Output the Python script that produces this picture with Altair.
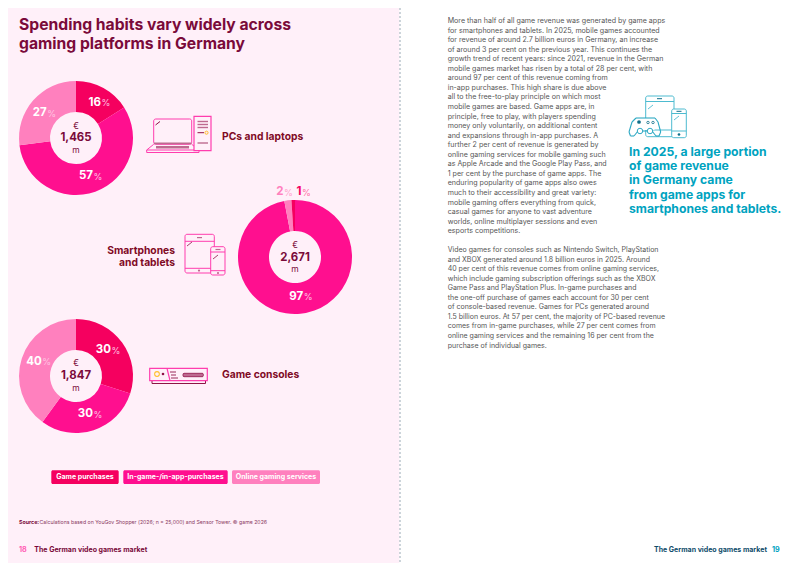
import altair as alt
import pandas as pd

# ---- data values ----
categories = ["Game purchases", "In-game-/in-app-purchases", "Online gaming services"]
cat_colors = ["#F5005F", "#FF0F8F", "#FF80BE"]
pc_slices = ["Game purchases", "In-game-/in-app-purchases", "Online gaming services"]
pc_values = [16, 57, 27]
mobile_slices = ["In-game-/in-app-purchases", "Online gaming services", "Game purchases"]
mobile_values = [97, 2, 1]
console_slices = ["Game purchases", "In-game-/in-app-purchases", "Online gaming services"]
console_values = [30, 30, 40]
totals = ["1,465", "2,671", "1,847"]

para1 = [
    "More than half of all game revenue was generated by game apps",
    "for smartphones and tablets. In 2025, mobile games accounted",
    "for revenue of around 2.7 billion euros in Germany, an increase",
    "of around 3 per cent on the previous year. This continues the",
    "growth trend of recent years: since 2021, revenue in the German",
    "mobile games market has risen by a total of 28 per cent, with",
    "around 97 per cent of this revenue coming from",
    "in-app purchases. This high share is due above",
    "all to the free-to-play principle on which most",
    "mobile games are based. Game apps are, in",
    "principle, free to play, with players spending",
    "money only voluntarily, on additional content",
    "and expansions through in-app purchases. A",
    "further 2 per cent of revenue is generated by",
    "online gaming services for mobile gaming such",
    "as Apple Arcade and the Google Play Pass, and",
    "1 per cent by the purchase of game apps. The",
    "enduring popularity of game apps also owes",
    "much to their accessibility and great variety:",
    "mobile gaming offers everything from quick,",
    "casual games for anyone to vast adventure",
    "worlds, online multiplayer sessions and even",
    "esports competitions.",
]
para2 = [
    "Video games for consoles such as Nintendo Switch, PlayStation",
    "and XBOX generated around 1.8 billion euros in 2025. Around",
    "40 per cent of this revenue comes from online gaming services,",
    "which include gaming subscription offerings such as the XBOX",
    "Game Pass and PlayStation Plus. In-game purchases and",
    "the one-off purchase of games each account for 30 per cent",
    "of console-based revenue. Games for PCs generated around",
    "1.5 billion euros. At 57 per cent, the majority of PC-based revenue",
    "comes from in-game purchases, while 27 per cent comes from",
    "online gaming services and the remaining 16 per cent from the",
    "purchase of individual games.",
]
callout = ["In 2025, a large portion", "of game revenue", "in Germany came",
           "from game apps for", "smartphones and tablets."]

FONT = "Inter"
OFF = 8  # page margin
DARK = "#7A0A3A"
LABEL = "#7F0A25"
PINK = "#FF3DAE"
MUTED = "#BE6A90"
TEAL = "#00A3BF"
TEAL_LINE = "#4DBBD0"
BG = "#FFF0F9"

X = lambda f: alt.X(f, type="quantitative", scale=None, axis=None)
Y = lambda f: alt.Y(f, type="quantitative", scale=None, axis=None)
layers = []


def text(rows, size, color, weight="normal", align="left", font=FONT):
    df = pd.DataFrame([{"t": t, "x": x - OFF, "y": y - OFF} for t, x, y in rows])
    layers.append(
        alt.Chart(df).mark_text(fontSize=size, color=color, fontWeight=weight, align=align,
                                baseline="middle", font=font)
        .encode(x=X("x"), y=Y("y"), text="t:N")
    )


def rects(rows, fill="transparent", stroke=None, sw=1.0, radius=0):
    df = pd.DataFrame([{"a": max(a - OFF, 0), "b": max(b - OFF, 0), "c": max(c - OFF, 0), "d": max(d - OFF, 0)}
                       for a, c, b, d in rows])
    kw = dict(fill=fill, cornerRadius=radius)
    if stroke:
        kw.update(stroke=stroke, strokeWidth=sw)
    layers.append(alt.Chart(df).mark_rect(**kw).encode(x=X("a"), x2="b:Q", y=Y("c"), y2="d:Q"))


def segs(rows, color, sw=1.0, dash=None):
    df = pd.DataFrame([{"a": a - OFF, "c": c - OFF, "b": b - OFF, "d": d - OFF} for a, c, b, d in rows])
    kw = dict(color=color, strokeWidth=sw)
    if dash:
        kw["strokeDash"] = dash
    layers.append(alt.Chart(df).mark_rule(**kw).encode(x=X("a"), x2="b:Q", y=Y("c"), y2="d:Q"))


def poly(points, color, sw=1.0):
    segs([(*points[i], *points[i + 1]) for i in range(len(points) - 1)], color, sw)


def dots(rows, size, fill, stroke=None, sw=1.0):
    df = pd.DataFrame([{"x": x - OFF, "y": y - OFF} for x, y in rows])
    kw = dict(size=size, filled=True, fill=fill, opacity=1)
    if stroke:
        kw.update(stroke=stroke, strokeWidth=sw)
    layers.append(alt.Chart(df).mark_point(**kw).encode(x=X("x"), y=Y("y")))


def donut(slices, values, cx, cy):
    df = pd.DataFrame({"category": slices, "share": values, "rank": range(len(values))})
    layers.append(
        alt.Chart(df).mark_arc(radius=57, innerRadius=26, strokeWidth=0)
        .encode(
            theta=alt.Theta("share:Q", stack=True, scale=alt.Scale(domain=[0, 100])),
            color=alt.Color("category:N", scale=alt.Scale(domain=categories, range=cat_colors), legend=None),
            order=alt.Order("rank:Q"),
            x=alt.value(cx - OFF),
            y=alt.value(cy - OFF),
        )
    )


# page backgrounds and divider
rects([(0, 0, 399.3, 571)], fill=BG)
segs([(400, 0, 400, 571)], "#9AA9B5", 1.0, [2, 2])

# title
text([("Spending habits vary widely across", 19, 24.5), ("gaming platforms in Germany", 19, 44)], 15.7, DARK, "bold")

# donuts
donut(pc_slices, pc_values, 76, 138)
donut(mobile_slices, mobile_values, 295, 257)
donut(console_slices, console_values, 76, 376)

# centre labels
text([("€", 76, 125.7), ("m", 76, 150), ("€", 295, 245), ("m", 295, 269), ("€", 76, 363.3), ("m", 76, 388)],
     8.5, DARK, align="center")
text([(totals[0], 76, 138.3), (totals[1], 295, 257.7), (totals[2], 76, 376)], 11.4, DARK, "bold", "center")

# percent labels (white on the rings)
text([(str(pc_values[0]), 101, 102.7), (str(pc_values[2]), 46.7, 113), (str(pc_values[1]), 93, 176),
      (str(mobile_values[0]), 303.3, 296.7),
      (str(console_values[0]), 111, 350), (str(console_values[1]), 93, 414), (str(console_values[2]), 41.7, 361.7)],
     11.5, "#FFFFFF", "bold", "right")
text([("%", 101.5, 103.2), ("%", 47.2, 113.5), ("%", 93.5, 176.5), ("%", 303.8, 297.2),
      ("%", 111.5, 350.5), ("%", 93.5, 414.5), ("%", 42.2, 362.2)], 9, "#FFC4E2", align="left")
text([(str(mobile_values[1]), 283.5, 192.3)], 11.5, "#FF80BE", "bold", "right")
text([("%", 284, 192.8)], 9, "#FF9FCE")
text([(str(mobile_values[2]), 301.5, 192.3)], 11.5, "#F5005F", "bold", "right")
text([("%", 302, 192.8)], 9, "#FF6FA6")

# platform labels
text([("PCs and laptops", 222, 137.3), ("Game consoles", 222, 375.3)], 10.3, LABEL, "bold")
text([("Smartphones", 175, 251.3), ("and tablets", 175, 263.3)], 10.3, LABEL, "bold", "right")

# PC icon
rects([(153.7, 119, 191.7, 144.3)], stroke=PINK, radius=2)
poly([(153.7, 144.3), (146.7, 150), (146.7, 152.5), (199, 152.5), (199, 150), (191.7, 144.3)], PINK)
segs([(146.7, 150, 199, 150)], PINK)
rects([(154, 142.6, 191.5, 144.2), (156, 146, 189, 148.6)], fill=MUTED)
rects([(194, 116.3, 211, 150.7)], fill=BG, stroke=PINK, sw=1.2)
segs([(197.5, 121.5, 208, 121.5), (197.5, 124.5, 208, 124.5), (197.5, 127.5, 208, 127.5), (197.5, 143, 208, 143)], MUTED, 1.4)
segs([(197.5, 132.7, 204, 132.7), (155.5, 125, 160, 121.5)], "#8F1247", 1)
dots([(206.5, 132.7)], 10, "#FFE5F2", "#FFC12E", 1)

# tablet & phone icon
rects([(185, 234.3, 214.3, 273)], stroke=PINK, radius=2)
segs([(185, 241.3, 214.3, 241.3), (185, 268.3, 214.3, 268.3)], PINK)
segs([(197, 237.6, 202, 237.6)], MUTED, 1.2)
segs([(187, 246, 192, 242)], "#8F1247", 0.8)
rects([(210.7, 246.7, 225, 275)], fill=BG, stroke=PINK, radius=2)
segs([(210.7, 252, 225, 252), (210.7, 270.7, 225, 270.7)], PINK)
segs([(215.5, 249.5, 220.5, 249.5)], MUTED, 1.2)
segs([(213, 259, 218, 255)], "#8F1247", 0.8)
dots([(199, 270.6), (218, 273)], 5, MUTED)

# console icon
rects([(152, 380, 205.5, 383.5)], fill=BG, stroke="#8F1247")
rects([(149.7, 368.3, 207.3, 380.7)], fill=BG, stroke=PINK, sw=1.2)
segs([(167, 368.3, 170, 380.7)], PINK, 1.2)
segs([(170, 372, 176, 372), (171, 375, 176, 375), (171, 378, 178, 378)], "#8F1247", 0.9)
rects([(183, 373.3, 203.3, 376.7)], fill=MUTED, stroke="#8F1247", sw=0.8, radius=1)
dots([(157, 374)], 22, BG, "#FFC12E", 1.1)
dots([(163, 374)], 7, "#8F1247")

# legend
rects([(51.3, 470.3, 118.7, 484)], fill=cat_colors[0], radius=1.5)
rects([(123.3, 470.3, 227.7, 484)], fill=cat_colors[1], radius=1.5)
rects([(232, 470.3, 320, 484)], fill=cat_colors[2], radius=1.5)
text([(categories[0], 85, 477.3), (categories[1], 175.5, 477.3), (categories[2], 276, 477.3)],
     7.0, "#FFFFFF", "bold", "center")

# source and footers
text([("Source:", 19, 522)], 5.3, DARK, "bold")
text([("Calculations based on YouGov Shopper (2026; n = 25,000) and Sensor Tower. © game 2026", 39.5, 522)], 5.2, "#8A3A62")
text([("18", 19, 550)], 7.2, "#FF5FB4", "bold")
text([("The German video games market", 34.3, 550)], 7.0, DARK, "bold")
text([("The German video games market", 654, 550)], 7.0, "#0F4C6B", "bold")
text([("19", 772, 550)], 7.2, "#00A3BF", "bold")

# body text
text([(t, 447.7, 21 + 9.553 * i) for i, t in enumerate(para1)], 7.1, "#555555")
text([(t, 447.7, 250 + 9.55 * i) for i, t in enumerate(para2)], 7.0, "#555555")

# teal icon
rects([(645.7, 96, 674, 136.7)], fill="#FFFFFF", stroke=TEAL_LINE, radius=2)
segs([(645.7, 101.5, 674, 101.5), (645.7, 130, 674, 130)], TEAL_LINE)
segs([(657, 98.7, 662, 98.7)], "#0F6F8A", 1)
segs([(648, 109, 653, 105)], TEAL_LINE, 0.9)
rects([(671.7, 109, 686.3, 137.7)], fill="#FFFFFF", stroke=TEAL_LINE, radius=2)
segs([(671.7, 113.5, 686.3, 113.5), (671.7, 131, 686.3, 131)], TEAL_LINE)
segs([(676.5, 111.3, 681.5, 111.3)], "#0F6F8A", 1)
segs([(674, 120, 679, 116)], TEAL_LINE, 0.9)
dots([(679, 134.5)], 7, "#0F6F8A")
rects([(632, 118, 656, 130)], fill="#FFFFFF", radius=3)
poly([(636, 118), (655, 118), (658, 122), (660.7, 132), (659, 136), (656, 136), (652, 131), (638, 131),
      (634, 136), (630.5, 136), (629, 132), (632, 122), (636, 118)], "#2FA9C4", 1.1)
dots([(640, 131), (650, 131)], 30, "#FFFFFF", "#2FA9C4", 1)
dots([(639, 122)], 14, "#0F6F8A")
dots([(648, 122.5), (653, 122.5)], 6, "#FFFFFF", "#0F6F8A", 0.8)

# teal callout
text([(t, 629, 151.7 + 14.33 * i) for i, t in enumerate(callout)], 12.2, TEAL, "bold")

chart = (
    alt.layer(*layers)
    .properties(width=784, height=555, padding=0, autosize="none", background="#FFFFFF")
    .configure_view(stroke=None)
)
chart.save("out.html", embed_options={"renderer": "svg", "actions": False})
